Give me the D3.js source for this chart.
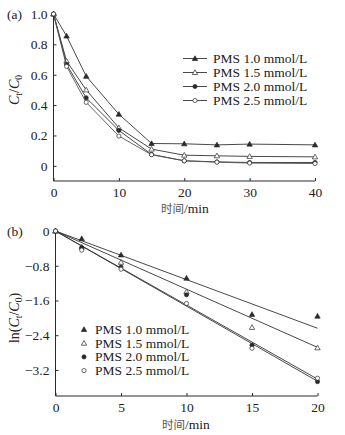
<!DOCTYPE html>
<html>
<head>
<meta charset="utf-8">
<script src="https://d3js.org/d3.v7.min.js"></script>
<style>
  body { margin: 0; background: #fff; }
  svg text { font-family: "Liberation Serif", "Times New Roman", "Noto Sans CJK SC", serif; fill: #222; }
</style>
</head>
<body>
<svg id="chart" width="345" height="435"></svg>
<script>
// ----- data -----
var series = ["PMS 1.0 mmol/L", "PMS 1.5 mmol/L", "PMS 2.0 mmol/L", "PMS 2.5 mmol/L"];
var markers = ["triFill", "triOpen", "dotFill", "dotOpen"];

// (a) C/C0 against time
var timeA = [0, 2, 5, 10, 15, 20, 25, 30, 40];
var ratio10 = [1.0, 0.855, 0.59, 0.34, 0.147, 0.145, 0.138, 0.143, 0.138];
var ratio15 = [1.0, 0.69, 0.50, 0.25, 0.11, 0.07, 0.066, 0.062, 0.059];
var ratio20 = [1.0, 0.668, 0.448, 0.233, 0.075, 0.033, 0.026, 0.022, 0.022];
var ratio25 = [1.0, 0.655, 0.418, 0.196, 0.073, 0.033, 0.024, 0.018, 0.015];

// (b) ln(C/C0) against time, with fitted slopes through the origin
var timeB = [0, 2, 5, 10, 15, 20];
var ln10 = [0, -0.176, -0.55, -1.085, -1.92, -1.96];
var ln15 = [0, -0.37, -0.72, -1.40, -2.22, -2.69];
var ln20 = [0, -0.38, -0.83, -1.47, -2.63, -3.47];
var ln25 = [0, -0.44, -0.88, -1.67, -2.70, -3.39];
var fitEnd = [-2.24, -2.68, -3.46, -3.41];

var ticksA_x = [0, 10, 20, 30, 40];
var ticksA_y = [0, 0.2, 0.4, 0.6, 0.8, 1.0];
var ticksB_x = [0, 5, 10, 15, 20];
var ticksB_y = [0, -0.8, -1.6, -2.4, -3.2];

var svg = d3.select('#chart');
var ink = '#2a2a2a';

// ----- helpers -----
function drawMarker(g, type, x, y) {
  if (type === 'triFill' || type === 'triOpen') {
    var s = 2.7;
    g.append('path')
     .attr('d', 'M' + x + ',' + (y - s) + 'L' + (x + s) + ',' + (y + s * 0.75) + 'L' + (x - s) + ',' + (y + s * 0.75) + 'Z')
     .attr('fill', type === 'triFill' ? ink : '#fff')
     .attr('stroke', ink).attr('stroke-width', 0.7);
  } else {
    g.append('circle').attr('cx', x).attr('cy', y).attr('r', 2.1)
     .attr('fill', type === 'dotFill' ? ink : '#fff')
     .attr('stroke', ink).attr('stroke-width', 0.7);
  }
}

function drawAxes(g, x, y, xt, yt, yFmt) {
  var xa = d3.axisBottom(x).tickValues(xt).tickSize(-3).tickPadding(6).tickFormat(d3.format('d'));
  var ya = d3.axisLeft(y).tickValues(yt).tickSize(-3).tickPadding(6).tickFormat(yFmt);
  var gx = g.append('g').attr('transform', 'translate(0,' + y.range()[0] + ')').call(xa);
  var gy = g.append('g').attr('transform', 'translate(' + x.range()[0] + ',0)').call(ya);
  [gx, gy].forEach(function(a) {
    a.select('.domain').attr('stroke', ink).attr('stroke-width', 1);
    a.selectAll('.tick line').attr('stroke', ink);
    a.selectAll('.tick text').style('font-size', '13.5px').attr('fill', '#222');
  });
  gx.select('.domain').attr('d', 'M' + x.range()[0] + ',0H' + x.range()[1]);
  gy.select('.domain').attr('d', 'M0,' + y.range()[0] + 'V' + y.range()[1]);
}

function timeLabel(g, x, y) {
  g.append('text').attr('x', x).attr('y', y).attr('text-anchor', 'middle').style('font-size', '13.5px')
    .html('<tspan style="font-family:\'Noto Sans CJK SC\'; font-size:11.5px; fill:#555">时间</tspan>/min');
}

// ----- panel (a) -----
var xA = d3.scaleLinear().domain([0, 40]).range([53.5, 315]);
var yA = d3.scaleLinear().domain([-0.1, 1.0]).range([181, 14]);
var gA = svg.append('g');
drawAxes(gA, xA, yA, ticksA_x, ticksA_y, function(d) { return d === 0 ? '0' : d3.format('.1f')(d); });

var dataA = [ratio10, ratio15, ratio20, ratio25];
var lineA = d3.line().x(function(d) { return xA(d[0]); }).y(function(d) { return yA(d[1]); });
dataA.forEach(function(vals, i) {
  var pts = timeA.map(function(t, j) { return [t, vals[j]]; });
  gA.append('path').attr('d', lineA(pts)).attr('fill', 'none')
    .attr('stroke', i === 3 ? '#555' : '#333').attr('stroke-width', 0.9);
  pts.forEach(function(p) { drawMarker(gA, markers[i], xA(p[0]), yA(p[1])); });
});

// legend (a)
series.forEach(function(name, i) {
  var ly = 58.5 + i * 14;
  gA.append('line').attr('x1', 183).attr('x2', 207).attr('y1', ly).attr('y2', ly)
    .attr('stroke', '#333').attr('stroke-width', 0.9);
  drawMarker(gA, markers[i], 195, ly);
  gA.append('text').attr('x', 213).attr('y', ly + 4.5).style('font-size', '13.5px').text(name);
});

gA.append('text').attr('x', 7).attr('y', 19).style('font-size', '13.5px').text('(a)');
timeLabel(gA, 185, 213);
gA.append('text').attr('transform', 'translate(19,90) rotate(-90)').attr('text-anchor', 'middle')
  .style('font-size', '14px')
  .html('<tspan font-style="italic">C</tspan><tspan font-size="9.5px" dy="3">t</tspan><tspan dy="-3">/</tspan><tspan font-style="italic">C</tspan><tspan font-size="9.5px" dy="3">0</tspan>');

// ----- panel (b) -----
var xB = d3.scaleLinear().domain([0, 20]).range([55.5, 317.5]);
var yB = d3.scaleLinear().domain([-3.8, 0]).range([396, 231]);
var gB = svg.append('g');
drawAxes(gB, xB, yB, ticksB_x, ticksB_y, function(d) { return d === 0 ? '0' : '\u2212' + d3.format('.1f')(-d); });

var dataB = [ln10, ln15, ln20, ln25];
dataB.forEach(function(vals, i) {
  gB.append('line')
    .attr('x1', xB(0)).attr('y1', yB(0))
    .attr('x2', xB(20)).attr('y2', yB(fitEnd[i]))
    .attr('stroke', '#333').attr('stroke-width', 0.9);
});
dataB.forEach(function(vals, i) {
  timeB.forEach(function(t, j) { drawMarker(gB, markers[i], xB(t), yB(vals[j])); });
});

// legend (b)
series.forEach(function(name, i) {
  var ly = 329.5 + i * 13.7;
  drawMarker(gB, markers[i], 84, ly);
  gB.append('text').attr('x', 95).attr('y', ly + 4.5).style('font-size', '13.5px').text(name);
});

gB.append('text').attr('x', 7).attr('y', 236).style('font-size', '13.5px').text('(b)');
timeLabel(gB, 186, 429);
gB.append('text').attr('transform', 'translate(19,318) rotate(-90)').attr('text-anchor', 'middle')
  .style('font-size', '14px')
  .html('ln(<tspan font-style="italic">C</tspan><tspan font-size="9.5px" dy="3">t</tspan><tspan dy="-3">/</tspan><tspan font-style="italic">C</tspan><tspan font-size="9.5px" dy="3">0</tspan><tspan dy="-3">)</tspan>');
</script>
</body>
</html>
